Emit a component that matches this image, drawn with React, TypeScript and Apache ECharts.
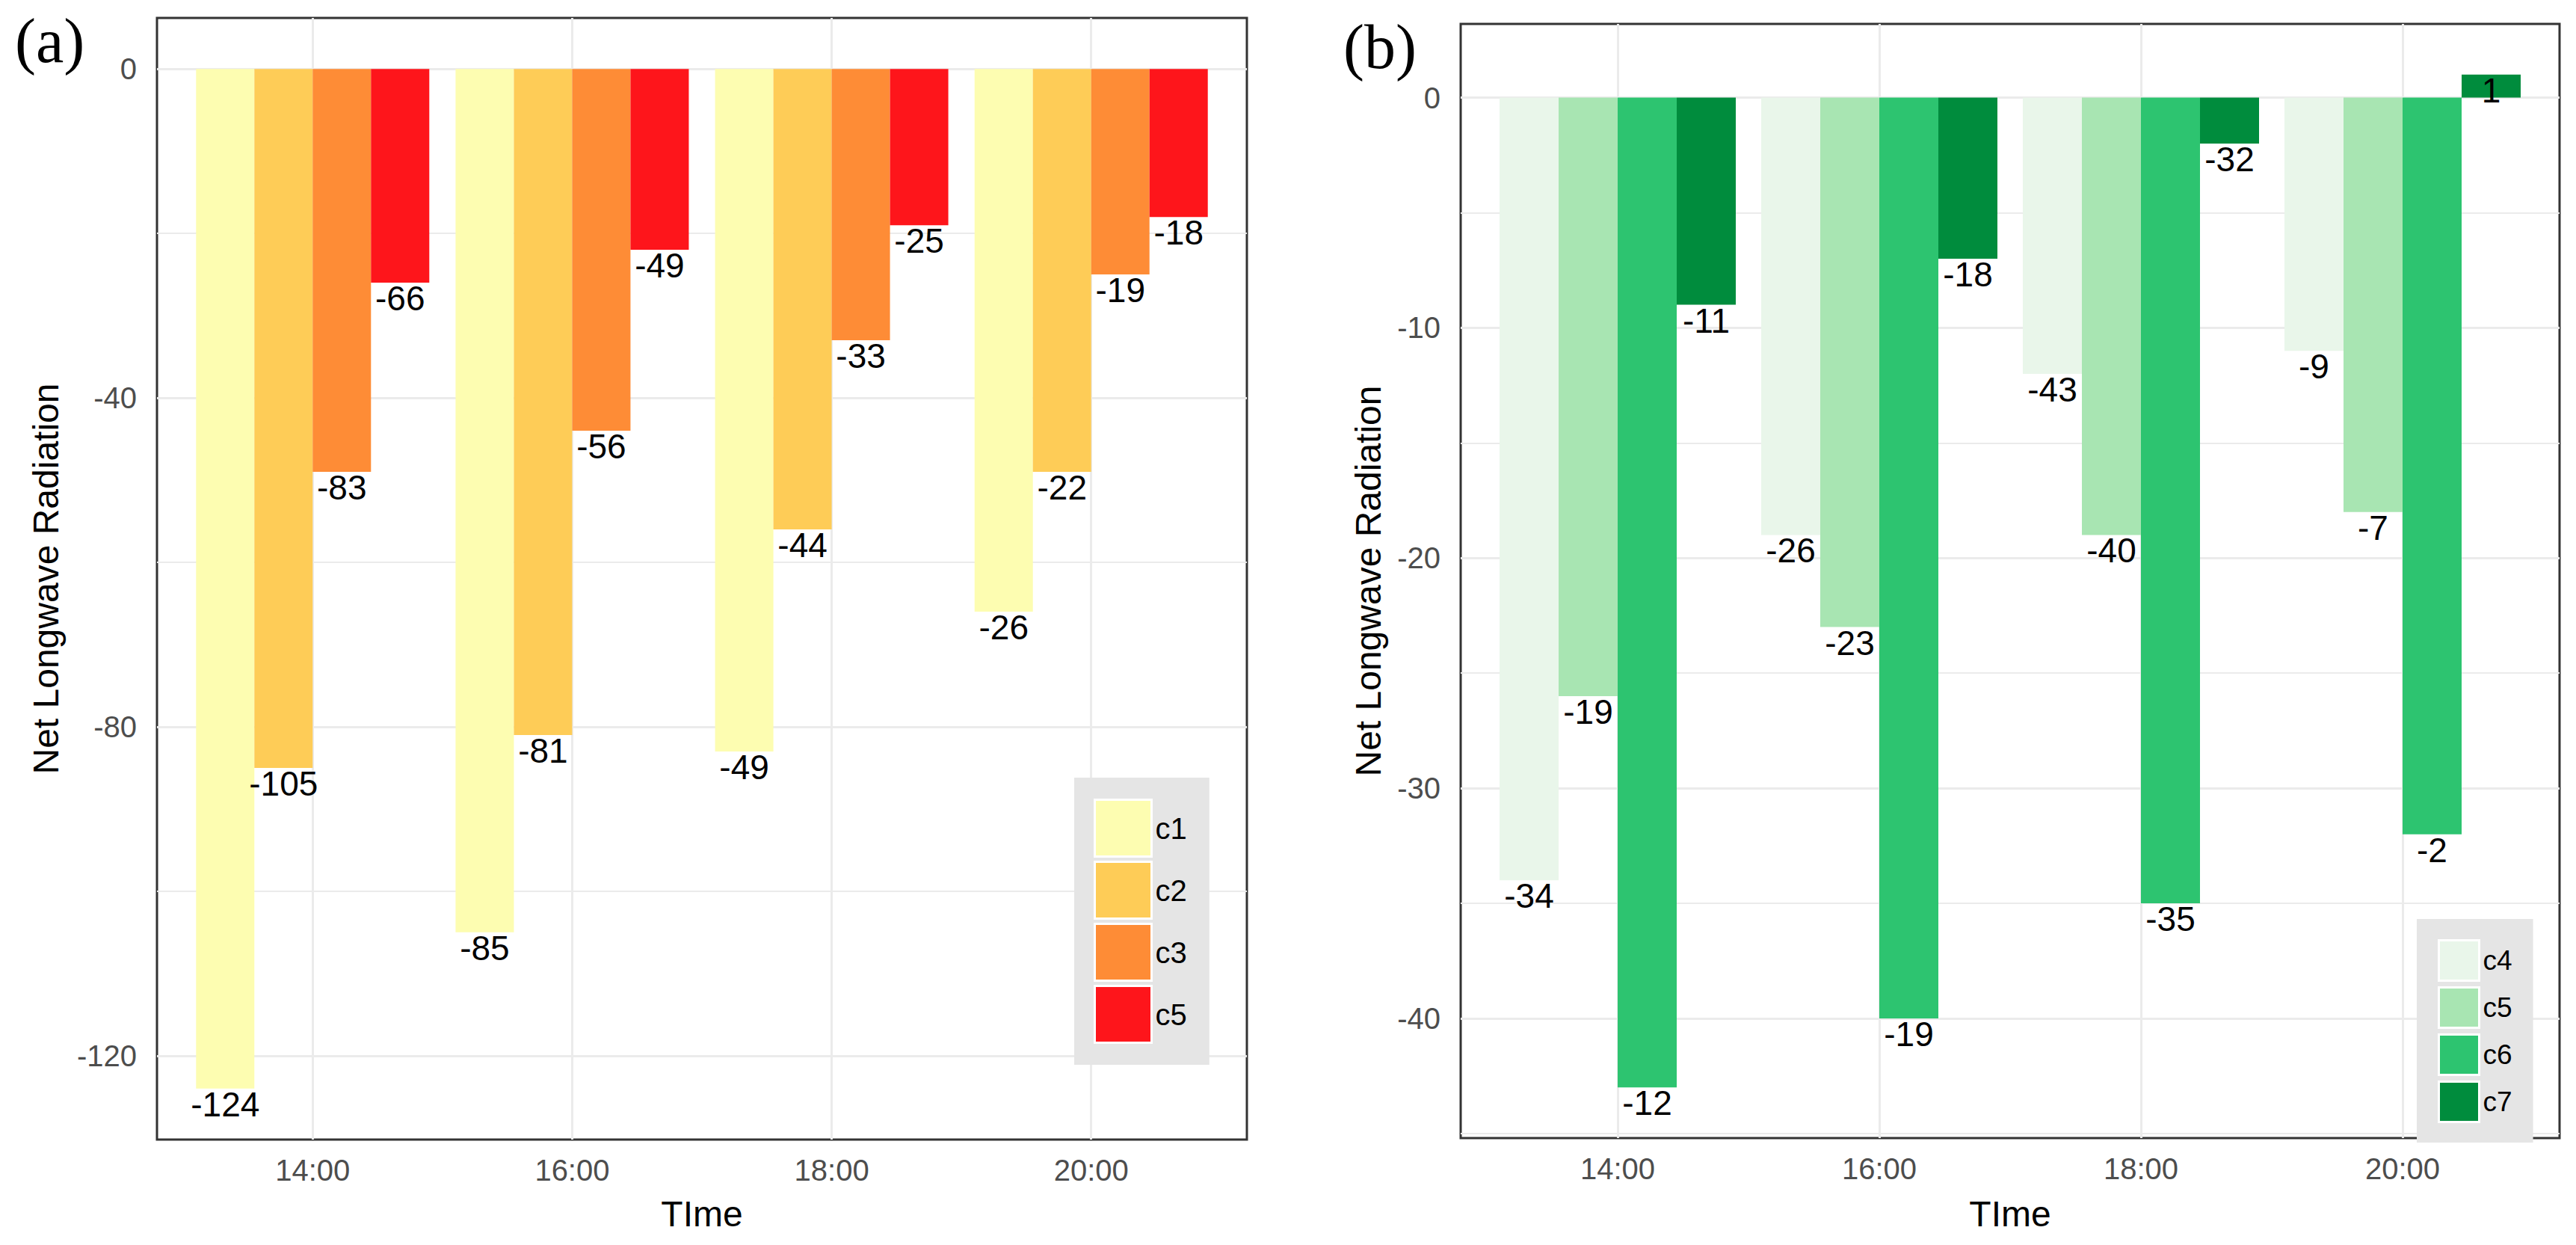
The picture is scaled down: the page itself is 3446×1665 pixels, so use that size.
import React, { useEffect, useRef } from 'react';
import * as echarts from 'echarts';

// ---------- data ----------
const TIMES = ['14:00', '16:00', '18:00', '20:00'];
const X_POS = [0, 1, 2, 3];

// panel (a)
const A_NAMES = ['c1', 'c2', 'c3', 'c5'];
const A_COLORS = ['#FDFDB1', '#FECC57', '#FE8C36', '#FE151B'];
const A_C1 = [-124, -105, -83, -66];
const A_C2 = [-85, -81, -56, -49];
const A_C3 = [-49, -44, -33, -25];
const A_C5 = [-26, -22, -19, -18];
const A_LBL_C1 = [-124, -85, -49, -26];
const A_LBL_C2 = [-105, -81, -44, -22];
const A_LBL_C3 = [-83, -56, -33, -19];
const A_LBL_C5 = [-66, -49, -25, -18];
const A_Y_MAJOR = [0, -40, -80, -120];
const A_Y_MINOR = [-20, -60, -100];

// panel (b)
const B_NAMES = ['c4', 'c5', 'c6', 'c7'];
const B_COLORS = ['#E9F6EA', '#A8E5B2', '#2DC470', '#008C3D'];
const B_C4 = [-34, -19, -12, -11];
const B_C5 = [-26, -23, -19, -18];
const B_C6 = [-43, -40, -35, -32];
const B_C7 = [-9, -7, -2, 1];
const B_LBL_C4 = [-34, -26, -43, -9];
const B_LBL_C5 = [-19, -23, -40, -7];
const B_LBL_C6 = [-12, -19, -35, -2];
const B_LBL_C7 = [-11, -18, -32, 1];
const B_Y_MAJOR = [0, -10, -20, -30, -40];
const B_Y_MINOR = [-5, -15, -25, -35, -45];

const Y_TITLE = 'Net Longwave Radiation';
const X_TITLE = 'TIme';

const SANS = '"Liberation Sans", Arial, sans-serif';
const SERIF = '"Liberation Serif", "Times New Roman", serif';

function buildOption(p: any) {
  const gridLineStyle = (w: number) => ({ color: '#EBEBEB', width: w, type: 'solid' });

  // helper (non-bar) series that only carries the panel grid lines
  const gridSeries = {
    type: 'line',
    name: '__grid__',
    data: [],
    silent: true,
    z: 1,
    showSymbol: false,
    markLine: {
      silent: true,
      z: 1,
      symbol: ['none', 'none'],
      label: { show: false },
      emphasis: { disabled: true },
      lineStyle: gridLineStyle(3),
      data: [
        ...p.minor.map((v: number) => ({ yAxis: v, lineStyle: gridLineStyle(2) })),
        ...p.major.map((v: number) => ({ yAxis: v, lineStyle: gridLineStyle(3) })),
        ...X_POS.map((x) => ({ xAxis: x, lineStyle: gridLineStyle(3) })),
      ],
    },
  };

  const bars: any[] = p.values.map((vals: number[], si: number) => ({
    type: 'bar',
    name: p.names[si],
    barWidth: p.barWidth,
    barGap: '0%',
    z: 2,
    itemStyle: { color: p.colors[si] },
    emphasis: { disabled: true },
    data: vals.map((v, i) => ({
      value: [X_POS[i], v],
      label: { position: v < 0 ? 'bottom' : 'insideTop' },
    })),
    label: {
      show: true,
      distance: -2,
      color: '#000',
      fontSize: 46,
      fontFamily: SANS,
      formatter: (prm: any) => String(p.labels[si][prm.dataIndex]),
    },
  }));

  return {
    animation: false,
    backgroundColor: '#fff',
    grid: {
      left: p.gridLeft,
      top: p.gridTop,
      width: p.gridWidth,
      height: p.gridHeight,
      show: true,
      borderColor: '#333333',
      borderWidth: 3,
      backgroundColor: 'transparent',
    },
    xAxis: {
      type: 'value',
      min: -0.6,
      max: 3.6,
      axisLine: { show: false },
      splitLine: { show: false },
      axisTick: {
        show: true,
        customValues: X_POS,
        length: 14,
        lineStyle: { color: '#333333', width: 3 },
      },
      axisLabel: {
        customValues: X_POS,
        formatter: (v: number) => TIMES[Math.round(v)],
        color: '#4D4D4D',
        fontSize: 40,
        fontFamily: SANS,
        margin: 21,
      },
    },
    yAxis: {
      type: 'value',
      min: p.yMin,
      max: p.yMax,
      axisLine: { show: false },
      splitLine: { show: false },
      axisTick: {
        show: true,
        customValues: p.major,
        length: 14,
        lineStyle: { color: '#333333', width: 3 },
      },
      axisLabel: {
        customValues: p.major,
        color: '#4D4D4D',
        fontSize: 40,
        fontFamily: SANS,
        margin: 27,
      },
    },
    legend: {
      orient: 'vertical',
      left: p.legend.left,
      top: p.legend.top,
      padding: p.legend.padding,
      backgroundColor: '#E5E5E5',
      itemWidth: p.legend.item,
      itemHeight: p.legend.item,
      itemGap: p.legend.gap,
      icon: 'rect',
      selectedMode: false,
      itemStyle: { borderColor: '#FFFFFF', borderWidth: 3 },
      textStyle: { color: '#000', fontSize: p.legend.font, fontFamily: SANS },
      data: p.names,
    },
    graphic: [
      {
        type: 'text',
        x: p.tag.x,
        y: p.tag.y,
        style: {
          text: p.tag.text,
          font: `84px ${SERIF}`,
          fill: '#000',
          align: 'left',
          verticalAlign: 'middle',
          textAlign: 'left',
          textVerticalAlign: 'middle',
        },
      },
      {
        type: 'text',
        x: p.yTitle.x,
        y: p.yTitle.y,
        rotation: Math.PI / 2,
        style: {
          text: Y_TITLE,
          font: `48px ${SANS}`,
          fill: '#000',
          align: 'center',
          verticalAlign: 'middle',
          textAlign: 'center',
          textVerticalAlign: 'middle',
        },
      },
      {
        type: 'text',
        x: p.xTitle.x,
        y: p.xTitle.y,
        style: {
          text: X_TITLE,
          font: `48px ${SANS}`,
          fill: '#000',
          align: 'center',
          verticalAlign: 'middle',
          textAlign: 'center',
          textVerticalAlign: 'middle',
        },
      },
    ],
    series: [gridSeries, ...bars],
  };
}

const optionA = buildOption({
  gridLeft: 210,
  gridTop: 24,
  gridWidth: 1458,
  gridHeight: 1500,
  yMin: -130.2,
  yMax: 6.2,
  major: A_Y_MAJOR,
  minor: A_Y_MINOR,
  names: A_NAMES,
  colors: A_COLORS,
  values: [A_C1, A_C2, A_C3, A_C5],
  labels: [A_LBL_C1, A_LBL_C2, A_LBL_C3, A_LBL_C5],
  barWidth: 78,
  legend: { left: 1437, top: 1040, padding: [28, 30, 28, 26], item: 76, gap: 4, font: 40 },
  tag: { text: '(a)', x: 20, y: 54 },
  yTitle: { x: 61, y: 774 },
  xTitle: { x: 939, y: 1623 },
});

const optionB = buildOption({
  gridLeft: 231,
  gridTop: 32,
  gridWidth: 1470,
  gridHeight: 1490,
  yMin: -45.2,
  yMax: 3.2,
  major: B_Y_MAJOR,
  minor: B_Y_MINOR,
  names: B_NAMES,
  colors: B_COLORS,
  values: [B_C4, B_C5, B_C6, B_C7],
  labels: [B_LBL_C4, B_LBL_C5, B_LBL_C6, B_LBL_C7],
  barWidth: 79,
  legend: { left: 1510, top: 1229, padding: [27, 28, 26, 28], item: 54, gap: 6, font: 37 },
  tag: { text: '(b)', x: 74, y: 62 },
  yTitle: { x: 107, y: 777 },
  xTitle: { x: 966, y: 1623 },
});

function Chart({ option, style }: { option: any; style: React.CSSProperties }) {
  const ref = useRef<HTMLDivElement>(null);
  useEffect(() => {
    if (!ref.current) return;
    const chart = echarts.init(ref.current, null, { renderer: 'svg' });
    chart.setOption(option);
    return () => chart.dispose();
  }, [option]);
  return <div ref={ref} style={style} />;
}

export default function App() {
  return (
    <div
      style={{
        position: 'absolute',
        left: 0,
        top: 0,
        width: 3446,
        height: 1665,
        background: '#fff',
        overflow: 'hidden',
      }}
    >
      <Chart option={optionA} style={{ position: 'absolute', left: 0, top: 0, width: 1723, height: 1665 }} />
      <Chart option={optionB} style={{ position: 'absolute', left: 1723, top: 0, width: 1723, height: 1665 }} />
    </div>
  );
}
